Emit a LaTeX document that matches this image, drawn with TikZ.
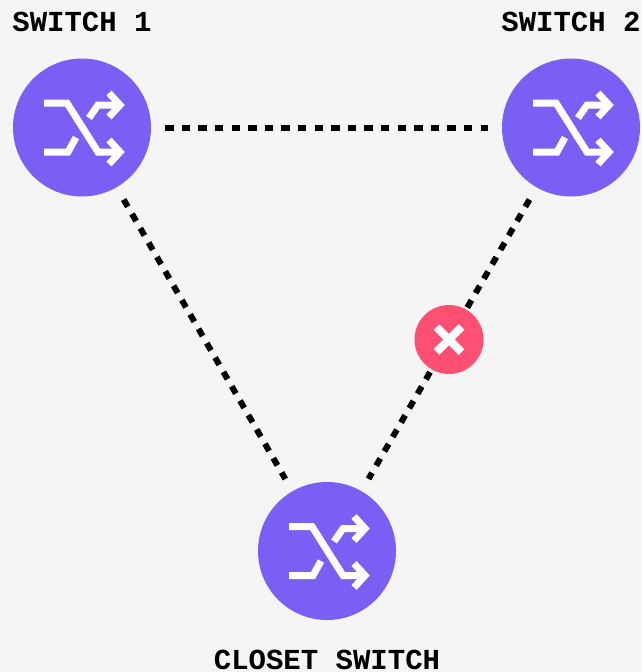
\documentclass[tikz,border=0pt]{standalone}
\usepackage{fontspec}
\setmonofont{Liberation Mono}
\definecolor{pagebg}{HTML}{F5F5F5}
\definecolor{switchviolet}{HTML}{7B5EF4}
\definecolor{failpink}{HTML}{FF5074}
\tikzset{
  shuffleicon/.pic={
    \draw[white, line width=7pt] (-38,-24.5) -- (-15,-24.5) -- (16,24.5) -- (38,24.5);
    \draw[white, line width=7pt] (27,12.5) -- (38,24.5) -- (27,36.5);
    \draw[white, line width=7pt] (-38,24.5) -- (-14,24.5) -- (-6,10);
    \draw[white, line width=7pt] (7,-9.5) -- (16,-22.5) -- (38,-22.5);
    \draw[white, line width=7pt] (27,-34.5) -- (38,-22.5) -- (27,-10.5);
  }
}
\begin{document}
\begin{tikzpicture}[x=1pt, y=-1pt,
    switchnode/.style={circle, fill=switchviolet, minimum size=138pt, inner sep=0pt},
    failnode/.style={circle, fill=failpink, minimum size=69pt, inner sep=0pt},
    labelnode/.style={font=\ttfamily\bfseries\fontsize{29}{29}\selectfont, inner sep=0pt},
    linkline/.style={line width=6pt, dash pattern=on 8.3pt off 8.3pt, shorten <=14pt, shorten >=14pt}
  ]
  \useasboundingbox[fill=pagebg] (0,0) rectangle (641,672);

  \node[switchnode] (SW1) at (82,127.5) {};
  \node[switchnode] (SW2) at (571,127.5) {};
  \node[switchnode] (SW3) at (327,551) {};

  \draw[linkline] (SW1) -- (SW2);
  \draw[linkline] (SW1) -- (SW3);
  \draw[linkline] (SW2) -- (SW3);

  \node[failnode] (FAIL) at (449,339.5) {};
  \draw[white, line width=8pt] (436.5,327) -- (461.5,352);
  \draw[white, line width=8pt] (461.5,327) -- (436.5,352);

  \pic at (SW1) {shuffleicon};
  \pic at (SW2) {shuffleicon};
  \pic at (SW3) {shuffleicon};

  \node[labelnode] (L1) at (82,22) {SWITCH 1};
  \node[labelnode] (L2) at (571,22) {SWITCH 2};
  \node[labelnode] (L3) at (327,660) {CLOSET SWITCH};
\end{tikzpicture}
\end{document}
